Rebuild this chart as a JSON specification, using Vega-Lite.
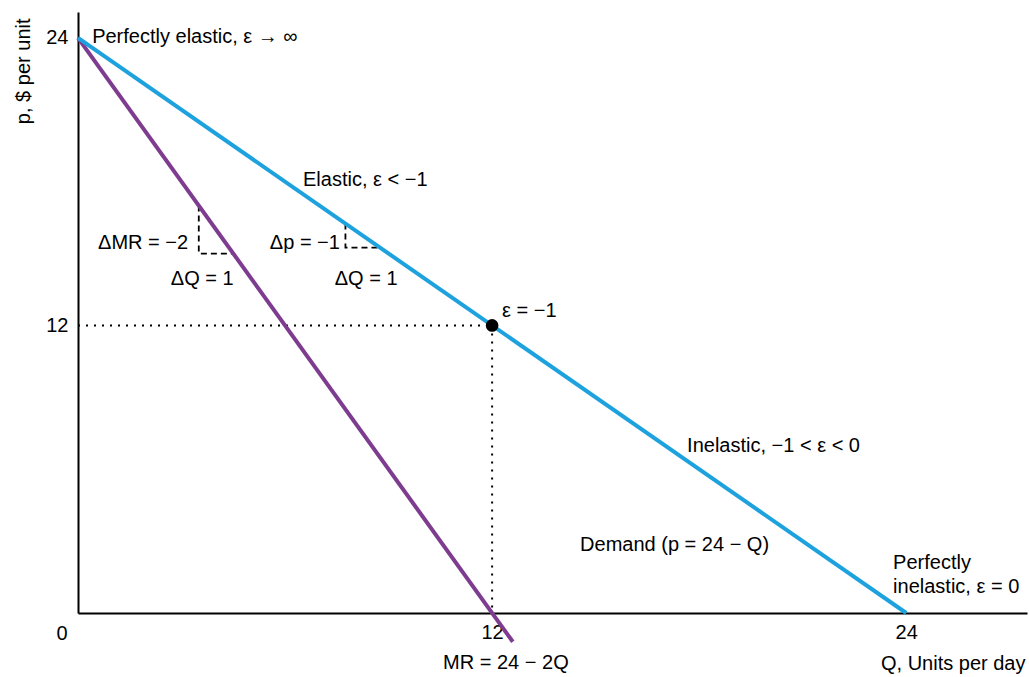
{
  "$schema": "https://vega.github.io/schema/vega-lite/v6.json",
  "width": 949,
  "height": 601,
  "autosize": "none",
  "padding": {"left": 78, "top": 12, "right": 2, "bottom": 64},
  "background": "white",
  "config": {
    "font": "Liberation Sans",
    "view": {"stroke": null},
    "axis": {"grid": false, "ticks": false, "domainColor": "black", "domainWidth": 2, "labelColor": "black", "labelFontSize": 20, "labelFont": "Liberation Sans", "titleFont": "Liberation Sans", "titleFontWeight": "normal", "titleFontSize": 20, "titleColor": "black"}
  },
  "encoding": {
    "x": {"field": "q", "type": "quantitative", "scale": {"domain": [0, 27.5], "nice": false, "zero": false},
      "axis": {"values": [12, 24], "labelPadding": 9, "title": "Q, Units per day", "titleX": 947, "titleY": 50, "titleAlign": "right", "titleBaseline": "middle"}},
    "y": {"field": "p", "type": "quantitative", "scale": {"domain": [0, 25.08], "nice": false, "zero": false},
      "axis": {"values": [12, 24], "labelPadding": 10, "title": "p, $ per unit", "titleAngle": -90, "titleX": -55, "titleY": 6, "titleAlign": "right", "titleBaseline": "middle"}}
  },
  "layer": [
    {
      "data": {"values": [
        {"seg": "h", "q": 0, "p": 12}, {"seg": "h", "q": 12, "p": 12},
        {"seg": "v", "q": 12, "p": 12}, {"seg": "v", "q": 12, "p": 0}
      ]},
      "mark": {"type": "line", "color": "black", "strokeWidth": 2, "strokeDash": [2, 6], "clip": false},
      "encoding": {"detail": {"field": "seg"}}
    },
    {
      "data": {"values": [
        {"seg": "mr", "q": 3.5, "p": 17}, {"seg": "mr", "q": 3.5, "p": 15}, {"seg": "mr", "q": 4.5, "p": 15},
        {"seg": "d", "q": 7.75, "p": 16.25}, {"seg": "d", "q": 7.75, "p": 15.25}, {"seg": "d", "q": 8.75, "p": 15.25}
      ]},
      "mark": {"type": "line", "color": "black", "strokeWidth": 1.8, "strokeDash": [6, 4]},
      "encoding": {"detail": {"field": "seg"}, "order": {"field": "p", "sort": "descending"}}
    },
    {
      "data": {"values": [
        {"curve": "MR", "q": 0, "p": 24}, {"curve": "MR", "q": 12.6, "p": -1.2}
      ]},
      "mark": {"type": "line", "color": "#7d3c8f", "strokeWidth": 4, "clip": false},
      "encoding": {}
    },
    {
      "data": {"values": [
        {"curve": "Demand", "q": 0, "p": 24}, {"curve": "Demand", "q": 24, "p": 0}
      ]},
      "mark": {"type": "line", "color": "#1ea2de", "strokeWidth": 4},
      "encoding": {}
    },
    {
      "data": {"values": [{"q": 12, "p": 12}]},
      "mark": {"type": "point", "filled": true, "color": "black", "opacity": 1, "size": 160},
      "encoding": {}
    },
    {
      "data": {"values": [
        {"q": 0.41, "p": 24.04, "label": "Perfectly elastic, ε → ∞"},
        {"q": 6.52, "p": 18.07, "label": "Elastic, ε < −1"},
        {"q": 12.29, "p": 12.6, "label": "ε = −1"},
        {"q": 17.65, "p": 6.97, "label": "Inelastic, −1 < ε < 0"},
        {"q": 14.55, "p": 2.84, "label": "Demand (p = 24 − Q)"},
        {"q": 23.62, "p": 2.09, "label": "Perfectly"},
        {"q": 23.62, "p": 1.09, "label": "inelastic, ε = 0"}
      ]},
      "mark": {"type": "text", "align": "left", "baseline": "middle", "fontSize": 20, "color": "black", "clip": false},
      "encoding": {"text": {"field": "label"}}
    },
    {
      "data": {"values": [
        {"q": 3.19, "p": 15.44, "label": "ΔMR = −2"},
        {"q": 7.59, "p": 15.44, "label": "Δp = −1"}
      ]},
      "mark": {"type": "text", "align": "right", "baseline": "middle", "fontSize": 20, "color": "black"},
      "encoding": {"text": {"field": "label"}}
    },
    {
      "data": {"values": [
        {"q": 3.6, "p": 13.94, "label": "ΔQ = 1"},
        {"q": 8.35, "p": 13.94, "label": "ΔQ = 1"},
        {"q": 12.4, "p": -2.09, "label": "MR = 24 − 2Q"},
        {"q": -0.46, "p": -0.88, "label": "0"}
      ]},
      "mark": {"type": "text", "align": "center", "baseline": "middle", "fontSize": 20, "color": "black", "clip": false},
      "encoding": {"text": {"field": "label"}}
    }
  ]
}
